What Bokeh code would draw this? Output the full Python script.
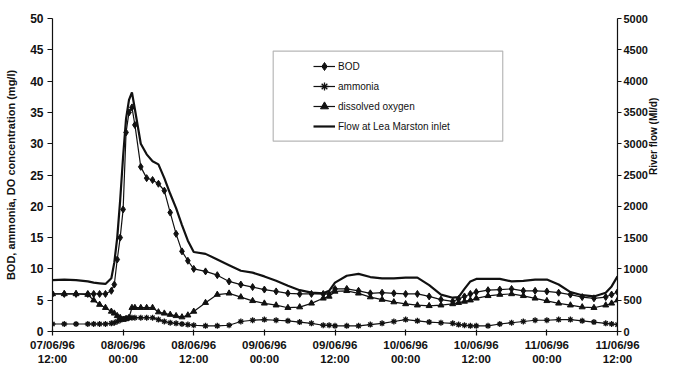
import math
from bokeh.plotting import figure
from bokeh.models import (Range1d, LinearAxis, FixedTicker, Legend, LegendItem,
                          BoxAnnotation, ColumnDataSource)
from bokeh.embed import file_html
from bokeh.resources import INLINE

# ---------------- data (hours after 07/06/96 12:00) ----------------
hours = [0, 2, 4, 6, 7, 8, 9, 10, 10.5, 11, 11.5, 12, 12.5, 13, 13.5, 14, 15, 16, 17, 18,
         19, 20, 21, 22, 23, 24, 26, 28, 30, 32, 34, 36, 38, 40, 42, 44, 46, 47, 48, 50,
         52, 54, 56, 58, 60, 62, 64, 66, 68, 69, 70, 71, 72, 74, 76, 78, 80, 82, 84, 86,
         88, 90, 92, 94, 95, 96]

bod = [6.0, 6.0, 6.0, 6.0, 6.0, 6.0, 6.0, 6.5, 7.5, 11.5, 15.0, 19.5, 31.8, 35.0, 35.8, 33.0, 26.3, 24.5, 24.2, 23.6,
       22.5, 19.0, 15.6, 12.8, 11.3, 10.0, 9.6, 9.0, 8.0, 7.5, 7.1, 6.7, 6.4, 6.1, 6.0, 6.0, 6.0, 6.0, 6.8, 6.8,
       6.5, 6.1, 6.2, 6.1, 6.0, 6.0, 5.6, 5.1, 4.8, 5.2, 5.6, 6.0, 6.3, 6.6, 6.7, 6.8, 6.5, 6.5, 6.4, 6.2,
       5.9, 5.5, 5.3, 5.5, 5.9, 6.3]

ammonia = [1.2, 1.2, 1.2, 1.2, 1.2, 1.2, 1.2, 1.3, 1.4, 1.6, 1.8, 2.0, 2.1, 2.2, 2.2, 2.2, 2.2, 2.2, 2.2, 1.9,
           1.6, 1.4, 1.3, 1.2, 1.1, 1.0, 0.9, 0.9, 1.0, 1.6, 1.8, 1.9, 1.8, 1.7, 1.5, 1.3, 1.0, 1.0, 0.9, 0.9,
           0.9, 1.1, 1.3, 1.6, 1.9, 1.7, 1.5, 1.4, 1.3, 1.1, 1.0, 0.9, 0.9, 0.9, 1.2, 1.4, 1.6, 1.8, 1.8, 1.9,
           1.9, 1.7, 1.5, 1.3, 1.2, 1.1]

dissolved_oxygen = [6.0, 6.0, 6.0, 5.9, 5.0, 4.3, 3.8, 3.2, 2.9, 2.5, 2.2, 1.9, 2.0, 2.2, 3.8, 3.8, 3.8, 3.8, 3.8, 3.1,
                    2.9, 2.7, 2.5, 2.3, 2.6, 3.2, 4.6, 5.9, 6.1, 5.5, 4.9, 4.5, 4.2, 3.8, 3.9, 4.5, 5.3, 5.6, 6.4, 6.5,
                    6.1, 5.5, 5.1, 4.7, 4.4, 4.2, 4.1, 4.2, 4.4, 4.6, 4.8, 5.0, 5.3, 5.7, 5.9, 6.0, 5.7, 5.3, 4.9, 4.5,
                    4.2, 3.9, 3.8, 4.2, 4.5, 5.0]

flow = [820, 830, 820, 800, 780, 770, 760, 850, 1100, 1500, 2100, 2800, 3400, 3700, 3820, 3550, 3000, 2830, 2720, 2670,
        2450, 2200, 1970, 1700, 1450, 1270, 1240, 1150, 1060, 970, 940, 880, 810, 730, 660, 620, 610, 650, 780, 890,
        920, 870, 850, 850, 860, 860, 740, 590, 540, 550, 680, 800, 840, 840, 840, 800, 810, 830, 830, 750,
        630, 580, 560, 620, 720, 880]

tick_hours = [0, 12, 24, 36, 48, 60, 72, 84, 96]
tick_labels = ["07/06/96\n12:00", "08/06/96\n00:00", "08/06/96\n12:00", "09/06/96\n00:00",
               "09/06/96\n12:00", "10/06/96\n00:00", "10/06/96\n12:00", "11/06/96\n00:00",
               "11/06/96\n12:00"]
left_ticks = [0, 5, 10, 15, 20, 25, 30, 35, 40, 45, 50]
right_ticks = [0, 500, 1000, 1500, 2000, 2500, 3000, 3500, 4000, 4500, 5000]
series_names = ["BOD", "ammonia", "dissolved oxygen", "Flow at Lea Marston inlet"]

# ---------------- figure ----------------
FONT = "Liberation Sans"
INK = "#111111"

src = ColumnDataSource(dict(h=hours, bod=bod, nh3=ammonia, do=dissolved_oxygen, flow=flow))

p = figure(width=667, height=367, output_backend="svg", toolbar_location=None,
           x_range=Range1d(0, 96), y_range=Range1d(0, 50),
           min_border_left=52, min_border_right=45, min_border_top=18, min_border_bottom=36)
p.extra_y_ranges = {"flow": Range1d(0, 5000)}
p.outline_line_color = None
p.xgrid.visible = False
p.ygrid.visible = False

# left axis
ya = p.yaxis[0]
ya.ticker = FixedTicker(ticks=left_ticks)
ya.axis_label = "BOD, ammonia, DO concentration (mg/l)"
ya.axis_label_standoff = 10
ya.major_tick_out = 5
ya.major_tick_in = 0
ya.major_label_standoff = 4

# bottom axis
xa = p.xaxis[0]
xa.ticker = FixedTicker(ticks=tick_hours)
xa.major_label_overrides = {h: lab for h, lab in zip(tick_hours, tick_labels)}
xa.major_tick_out = 4
xa.major_tick_in = 2
xa.major_label_standoff = 3

# right axis
ra = LinearAxis(y_range_name="flow", ticker=FixedTicker(ticks=right_ticks))
ra.axis_label = "River flow (Ml/d)"
ra.axis_label_standoff = 3
ra.major_tick_out = 4
ra.major_tick_in = 0
ra.major_label_standoff = 2
try:
    ra.axis_label_orientation = math.pi / 2
except Exception:
    pass
p.add_layout(ra, "right")

for ax in (ya, xa, ra):
    ax.axis_line_color = INK
    ax.axis_line_width = 1.2
    ax.major_tick_line_color = INK
    ax.major_tick_line_width = 1.2
    ax.minor_tick_line_color = None
    ax.major_label_text_font = FONT
    ax.major_label_text_font_style = "bold"
    ax.major_label_text_color = INK
    ax.axis_label_text_font = FONT
    ax.axis_label_text_font_style = "bold"
    ax.axis_label_text_color = INK
ya.major_label_text_font_size = "12px"
xa.major_label_text_font_size = "11.5px"
ra.major_label_text_font_size = "11px"
ya.axis_label_text_font_size = "11px"
ra.axis_label_text_font_size = "10px"

# ---------------- series ----------------
r_flow = p.line("h", "flow", source=src, y_range_name="flow", line_width=2.2, line_color=INK)

r_bod_l = p.line("h", "bod", source=src, line_width=1.2, line_color=INK)
r_bod_m = p.scatter("h", "bod", source=src, marker="diamond", size=7,
                    fill_color=INK, line_color=INK)

r_nh3_l = p.line("h", "nh3", source=src, line_width=1.2, line_color=INK)
r_nh3_m = p.scatter("h", "nh3", source=src, marker="asterisk", size=6,
                    line_color=INK, line_width=1.3)

r_do_l = p.line("h", "do", source=src, line_width=1.2, line_color=INK)
r_do_m = p.scatter("h", "do", source=src, marker="triangle", size=6,
                   fill_color=INK, line_color=INK)

# ---------------- legend ----------------
p.add_layout(BoxAnnotation(left=37.5, right=76.5, bottom=30.4, top=44.8,
                           fill_color="white", fill_alpha=1.0,
                           line_color=INK, line_width=1.2))

legend = Legend(items=[
    LegendItem(label=series_names[0], renderers=[r_bod_l, r_bod_m]),
    LegendItem(label=series_names[1], renderers=[r_nh3_l, r_nh3_m]),
    LegendItem(label=series_names[2], renderers=[r_do_l, r_do_m]),
    LegendItem(label=series_names[3], renderers=[r_flow]),
], location=(261, 195))
legend.border_line_color = None
legend.background_fill_alpha = 0
legend.padding = 5
legend.spacing = 0
legend.glyph_width = 22
legend.glyph_height = 20
legend.label_standoff = 3
legend.label_text_font = FONT
legend.label_text_font_size = "10px"
legend.label_text_color = INK
p.add_layout(legend)

open("out.html", "w").write(file_html(p, INLINE))
